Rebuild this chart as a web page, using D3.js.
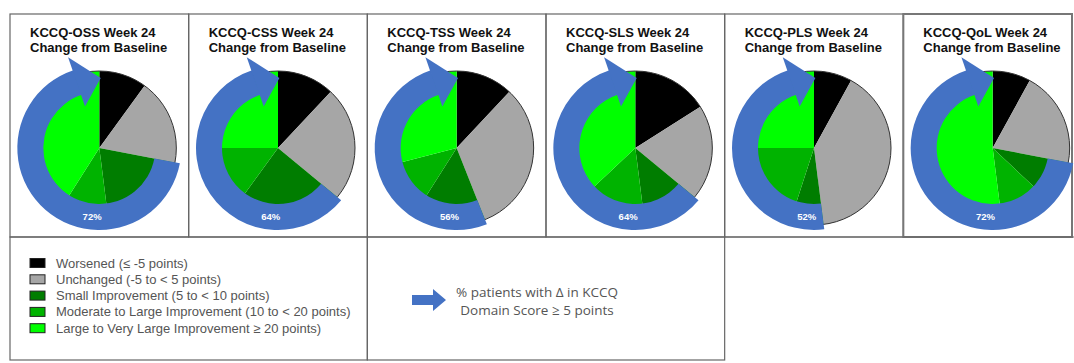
<!DOCTYPE html>
<html><head><meta charset="utf-8">
<script src="https://cdn.jsdelivr.net/npm/d3@7"></script>
<style>body{margin:0;background:#fff}</style>
</head><body><svg id="c" width="1074" height="363"></svg>
<script>
const panels = ["KCCQ-OSS","KCCQ-CSS","KCCQ-TSS","KCCQ-SLS","KCCQ-PLS","KCCQ-QoL"];
const categories = ["Worsened (≤ -5 points)", "Unchanged (-5 to < 5 points)", "Small Improvement (5 to < 10 points)", "Moderate to Large Improvement (10 to < 20 points)", "Large to Very Large Improvement ≥ 20 points)"];
const worsened    = [10, 12, 12, 16,  8,  8];
const unchanged   = [18, 24, 32, 20, 40, 20];
const smallImp    = [20, 24, 15, 12,  7,  9];
const moderateImp = [11, 15, 12, 15, 20, 11];
const largeImp    = [41, 25, 29, 37, 25, 52];
const improvedPct = [72, 64, 56, 64, 52, 72];
const arrowNote = ["% patients with Δ in KCCQ", "Domain Score ≥ 5 points"];
const colors = ["#000000", "#a6a6a6", "#007d00", "#00b300", "#00ff00"];

const svg = d3.select("#c");
svg.append("rect").attr("width",1074).attr("height",363).attr("fill","#fff");
const x = d3.scaleBand().domain(panels).range([10,1082]);
const boxTop = 14, boxBottom = 237;
const R = 77, rIn = 56, rOut = 82;
const pie = d3.pie().sort(null).value(d=>d);
const arc = d3.arc().innerRadius(0).outerRadius(R);
const ring = d3.arc().innerRadius(rIn).outerRadius(rOut);
const tau = 2*Math.PI;
const headA = 19*Math.PI/180;
const FONT = "'Liberation Sans', Arial, sans-serif";

panels.forEach((p,i)=>{
  const x0 = x(p), w = Math.min(x.bandwidth(), 1072 - x0);
  const g = svg.append("g");
  g.append("rect").attr("x",x0).attr("y",boxTop).attr("width",w).attr("height",boxBottom-boxTop)
    .attr("fill","none").attr("stroke", i===5 ? "#777" : "#666").attr("stroke-width", i===5 ? 2 : 1.2);
  const t = g.append("text").attr("font-family",FONT).attr("font-weight","bold").attr("font-size",13).attr("fill","#111");
  t.append("tspan").attr("x",x0+20).attr("y",37).text(p+" Week 24");
  t.append("tspan").attr("x",x0+20).attr("y",52).text("Change from Baseline");
  const cx = x0 + x.bandwidth()/2, cy = 148;
  const vals = [worsened[i], unchanged[i], smallImp[i], moderateImp[i], largeImp[i]];
  const arcs = pie(vals);
  const pg = g.append("g").attr("transform",`translate(${cx},${cy})`);
  pg.selectAll("path.s").data(arcs).join("path").attr("class","s").attr("d",arc).attr("fill",(d,j)=>colors[j]);
  pg.append("circle").attr("r",R).attr("fill","none").attr("stroke","#333").attr("stroke-width",1);
  const start = arcs[2].startAngle;
  pg.append("path").attr("d", ring({startAngle:start, endAngle: tau - headA + 0.01})).attr("fill","#4472c4");
  const rm = (rIn+rOut)/2;
  const pts = [d3.pointRadial(-headA, 44), d3.pointRadial(-headA, 96), d3.pointRadial(0.02, rm+1)];
  pg.append("path").attr("d", d3.line()(pts)+"Z").attr("fill","#4472c4");
  const lp = d3.pointRadial(Math.PI + 6*Math.PI/180, rm);
  pg.append("text").attr("x",lp[0]).attr("y",lp[1]).attr("dy","0.35em").attr("text-anchor","middle")
    .attr("font-family",FONT).attr("font-weight","bold").attr("font-size",9.5).attr("fill","#fff")
    .text(improvedPct[i]+"%");
});

// bottom boxes
const b1 = x(panels[0]), b2 = x(panels[2]), b3 = x(panels[4]);
svg.append("rect").attr("x",b1).attr("y",boxBottom).attr("width",b2-b1).attr("height",123).attr("fill","none").attr("stroke","#666").attr("stroke-width",1.2);
svg.append("rect").attr("x",b2).attr("y",boxBottom).attr("width",b3-b2).attr("height",123).attr("fill","none").attr("stroke","#666").attr("stroke-width",1.2);
svg.append("line").attr("x1",b3).attr("x2",1074).attr("y1",boxBottom).attr("y2",boxBottom).attr("stroke","#666").attr("stroke-width",1.2);

// legend
const lg = svg.append("g");
categories.forEach((c,j)=>{
  const y = 263 + j*16.3;
  lg.append("rect").attr("x",30).attr("y",y-4.5).attr("width",15).attr("height",9).attr("fill",colors[j]).attr("stroke","#222").attr("stroke-width",1);
  lg.append("text").attr("x",56).attr("y",y).attr("dy","0.35em").attr("font-family",FONT).attr("font-size",13).attr("fill","#555").text(c);
});

// arrow note
const ax = 412, ay = 300;
svg.append("path").attr("d", d3.line()([[ax,ay-5],[ax+21,ay-5],[ax+21,ay-11],[ax+34,ay],[ax+21,ay+11],[ax+21,ay+5],[ax,ay+5]])+"Z").attr("fill","#4472c4");
arrowNote.forEach((s,k)=>{
  svg.append("text").attr("x",537).attr("y",297+k*18).attr("text-anchor","middle").attr("font-family","'Open Sans', 'Noto Sans', sans-serif").attr("font-size",13.5).attr("fill","#555").text(s);
});
</script></body></html>
